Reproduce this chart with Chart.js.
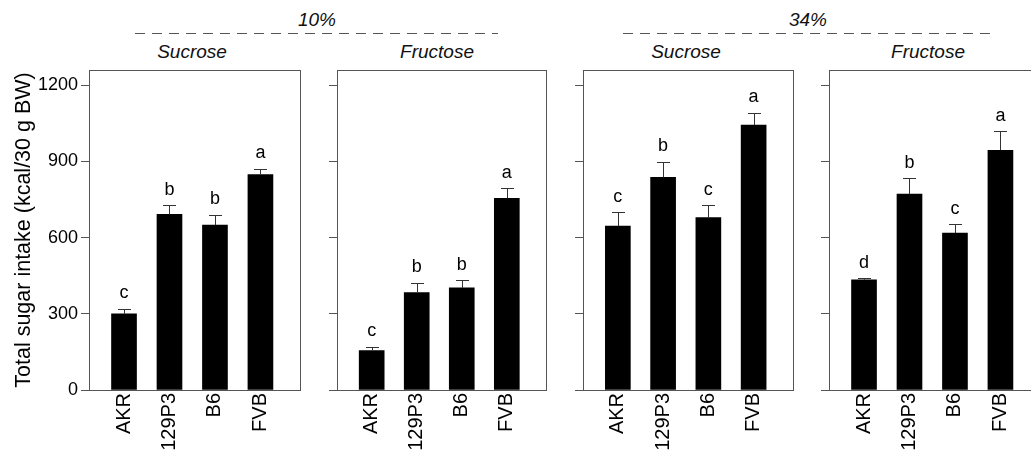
<!DOCTYPE html>
<html>
<head>
<meta charset="utf-8">
<script src="https://cdn.jsdelivr.net/npm/chart.js@4.4.1/dist/chart.umd.min.js"></script>
<style>
  html, body { margin: 0; padding: 0; background: #fff; }
  #wrap { position: relative; width: 1031px; height: 453px; overflow: hidden; background: #fff; }
  #wrap canvas { position: absolute; top: 0; }
  .hdr { position: absolute; font-family: 'Liberation Sans', Arial, sans-serif; font-style: italic;
         font-size: 19px; line-height: 22px; color: #111; transform: translateX(-50%); white-space: nowrap; }
  .dash { position: absolute; height: 1px;
          background: repeating-linear-gradient(to right, #555 0 10px, transparent 10px 17px); }
</style>
</head>
<body>
<div id="wrap">
  <div class="dash" style="left:135px; top:33px; width:363px;"></div>
  <div class="dash" style="left:623px; top:33px; width:367px;"></div>
  <div class="hdr" style="left:317px; top:9px;">10%</div>
  <div class="hdr" style="left:808px; top:9px;">34%</div>
  <div class="hdr" style="left:192px; top:41px;">Sucrose</div>
  <div class="hdr" style="left:437px; top:41px;">Fructose</div>
  <div class="hdr" style="left:686px; top:41px;">Sucrose</div>
  <div class="hdr" style="left:928px; top:41px;">Fructose</div>
  <canvas id="p1" width="302" height="453" style="left:0px"></canvas>
  <canvas id="p2" width="223" height="453" style="left:325px"></canvas>
  <canvas id="p3" width="224" height="453" style="left:571px"></canvas>
  <canvas id="p4" width="225" height="453" style="left:817px"></canvas>
</div>
<script>
// strains on the x axis
const strains = ["AKR", "129P3", "B6", "FVB"];

// total sugar intake (kcal/30 g BW), mean and SEM
const sucrose10 = [300, 692, 649, 848];
const sucrose10Sem = [20, 35, 42, 23];
const sucrose10Letters = ["c", "b", "b", "a"];

const fructose10 = [155, 384, 402, 755];
const fructose10Sem = [15, 38, 31, 40];
const fructose10Letters = ["c", "b", "b", "a"];

const sucrose34 = [645, 837, 679, 1043];
const sucrose34Sem = [55, 61, 49, 49];
const sucrose34Letters = ["c", "b", "c", "a"];

const fructose34 = [434, 771, 618, 944];
const fructose34Sem = [7, 63, 35, 74];
const fructose34Letters = ["d", "b", "c", "a"];

const yTicks = [0, 300, 600, 900, 1200];

Chart.defaults.font.family = "'Liberation Sans', Arial, sans-serif";
Chart.defaults.color = "#000";

// frame around the plot area + error bars + significance letters
const panelDecor = {
  id: "panelDecor",
  afterDatasetsDraw(chart, args, opts) {
    const ctx = chart.ctx;
    const a = chart.chartArea;
    const yScale = chart.scales.y;
    const meta = chart.getDatasetMeta(0);
    ctx.save();
    ctx.strokeStyle = "#333";
    ctx.lineWidth = 1;
    meta.data.forEach((bar, i) => {
      const mean = opts.values[i];
      const top = yScale.getPixelForValue(mean + opts.sem[i]);
      const base = yScale.getPixelForValue(mean);
      const x = Math.round(bar.x) + 0.5;
      ctx.beginPath();
      ctx.moveTo(x, base);
      ctx.lineTo(x, Math.round(top) + 0.5);
      ctx.moveTo(x - 6.5, Math.round(top) + 0.5);
      ctx.lineTo(x + 6.5, Math.round(top) + 0.5);
      ctx.stroke();
      ctx.fillStyle = "#000";
      ctx.font = "18px 'Liberation Sans', Arial, sans-serif";
      ctx.textAlign = "center";
      ctx.textBaseline = "alphabetic";
      ctx.fillText(opts.letters[i], bar.x, top - 10.5);
    });
    ctx.strokeStyle = "#555";
    ctx.strokeRect(Math.round(a.left) + 0.5, Math.round(a.top) + 0.5,
                   Math.round(a.right - a.left), Math.round(a.bottom - a.top));
    ctx.restore();
  }
};

function makePanel(id, values, sem, letters, first) {
  const axisWidth = first ? 89 : 12;
  new Chart(document.getElementById(id), {
    type: "bar",
    data: {
      datasets: [{
        data: values.map((v, i) => ({ x: i, y: v })),
        backgroundColor: "#000",
        borderWidth: 0,
        barThickness: 25
      }]
    },
    options: {
      responsive: false,
      animation: false,
      layout: { padding: { top: 70, right: 2, left: 0, bottom: 0 } },
      scales: {
        x: {
          type: "linear",
          offset: false,
          min: -0.77,
          max: 3.87,
          grid: { display: false, drawTicks: false },
          border: { display: false },
          afterBuildTicks: (axis) => { axis.ticks = strains.map((s, i) => ({ value: i })); },
          afterFit: (axis) => { axis.height = 63; },
          ticks: {
            autoSkip: false,
            minRotation: 90,
            maxRotation: 90,
            padding: 3,
            font: { size: 20 },
            callback: (v) => strains[v]
          }
        },
        y: {
          min: 0,
          max: 1260,
          afterBuildTicks: (axis) => { axis.ticks = yTicks.map(v => ({ value: v })); },
          afterFit: (axis) => { axis.width = axisWidth; },
          grid: { drawOnChartArea: false, drawTicks: true, tickLength: 8, color: "#555" },
          border: { display: false },
          ticks: { display: first, padding: 3, font: { size: 18 }, callback: (v) => String(v) },
          title: {
            display: first,
            text: "Total sugar intake (kcal/30 g BW)",
            font: { size: 21.5 },
            padding: { top: 11, bottom: 0 }
          }
        }
      },
      plugins: {
        legend: { display: false },
        tooltip: { enabled: false },
        panelDecor: { values: values, sem: sem, letters: letters }
      }
    },
    plugins: [panelDecor]
  });
}

makePanel("p1", sucrose10, sucrose10Sem, sucrose10Letters, true);
makePanel("p2", fructose10, fructose10Sem, fructose10Letters, false);
makePanel("p3", sucrose34, sucrose34Sem, sucrose34Letters, false);
makePanel("p4", fructose34, fructose34Sem, fructose34Letters, false);
</script>
</body>
</html>
